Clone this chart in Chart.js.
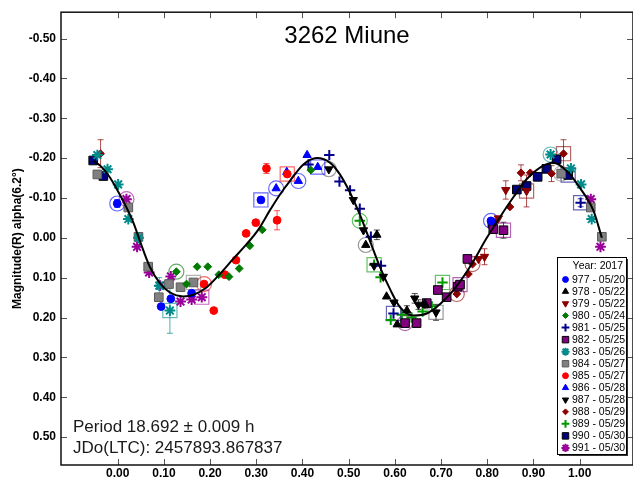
<!DOCTYPE html>
<html>
<head>
<meta charset="utf-8">
<title>3262 Miune</title>
<script src="https://cdn.jsdelivr.net/npm/chart.js@4.4.1/dist/chart.umd.min.js"></script>
<style>
  html, body { margin: 0; padding: 0; background: #fff; overflow: hidden; }
  #wrap { position: relative; width: 633px; height: 482px; }
  #lc { display: block; }
</style>
</head>
<body>
<div id="wrap"><canvas id="lc"></canvas></div>
<script>
// each point: [phase, magnitude, error bar (or null), marker ring: 'o' circle / 's' box]
const s977 = [[-0.001, -0.086, 0.01, 'o'], [0.094, 0.1725], [0.115, 0.153], [0.16, 0.139], [0.31, -0.095, null, 's'], [0.808, -0.0425, null, 'o']];
const s978 = [[0.537, 0.018, null, 'o'], [0.561, -0.0075, 0.012], [0.582, 0.1475], [0.605, 0.2175], [0.626, 0.1825, 0.012], [0.665, 0.166, 0.012]];
const s979 = [[0.781, 0.053], [0.794, 0.0475, 0.02], [0.824, -0.049], [0.84, -0.12, 0.023], [0.885, -0.1175, 0.04, 's']];
const s980 = [[0.127, 0.085, null, 'o'], [0.149, 0.116], [0.172, 0.0725], [0.195, 0.0725], [0.219, 0.0925], [0.241, 0.0975], [0.263, 0.077], [0.286, 0.02], [0.313, -0.02], [0.418, -0.17]];
const s981 = [[0.413, -0.184], [0.458, -0.2075], [0.48, -0.141], [0.503, -0.119], [0.524, -0.073], [0.548, -0.0025], [0.57, 0.07], [0.597, 0.19, null, 's'], [1.002, -0.088, 0.01, 's']];
const s982 = [[0.622, 0.214, null, 'o'], [0.647, 0.214], [0.669, 0.164], [0.693, 0.131], [0.712, 0.149], [0.736, 0.1225], [0.741, 0.1175, null, 's'], [0.757, 0.053], [0.813, -0.0217], [0.835, -0.019, 0.02, 's']];
const s983 = [[-0.044, -0.2075], [-0.022, -0.172], [0.001, -0.134], [0.023, -0.047], [0.045, 0.0], [0.09, 0.12, 0.02], [0.113, 0.1825, 0.057, 's'], [0.937, -0.209, null, 'o'], [0.981, -0.174], [1.003, -0.134], [1.026, -0.047]];
const s984 = [[-0.044, -0.159], [0.023, -0.076], [0.045, -0.0025], [0.066, 0.0725], [0.089, 0.149], [0.111, 0.116], [0.136, 0.124], [0.164, 0.112, null, 's'], [0.96, -0.161, null, 'o'], [1.024, -0.076], [1.048, -0.0025]];
const s985 = [[0.187, 0.116, null, 'o'], [0.208, 0.1825], [0.232, 0.0925], [0.256, 0.056], [0.278, -0.011], [0.299, -0.038], [0.322, -0.174, 0.0125], [0.345, -0.044, 0.024], [0.367, -0.16, null, 's']];
const s986 = [[0.343, -0.124, null, 'o'], [0.366, -0.165], [0.391, -0.1425, null, 'o'], [0.41, -0.2075], [0.433, -0.1775, null, 's']];
const s987 = [[0.457, -0.172, null, 'o'], [0.51, -0.095], [0.532, -0.019], [0.555, 0.07], [0.575, 0.0975], [0.598, 0.162], [0.643, 0.152, 0.012], [0.651, 0.1675, 0.012], [0.689, 0.187, 0.02, 's']];
const s988 = [[-0.037, -0.211, 0.035], [0.734, 0.141, null, 'o'], [0.759, 0.091], [0.768, 0.066, null, 'o'], [0.849, -0.0775], [0.873, -0.163, 0.02], [0.893, -0.163], [0.939, -0.161, 0.02], [0.965, -0.211, 0.035, 's']];
const s989 = [[0.524, -0.0425, null, 'o'], [0.555, 0.0675, null, 's'], [0.569, 0.099], [0.591, 0.206], [0.615, 0.193], [0.636, 0.2], [0.66, 0.185], [0.68, 0.172], [0.703, 0.112, null, 's']];
const s990 = [[-0.053, -0.194], [-0.031, -0.155], [0.811, -0.036], [0.864, -0.121], [0.885, -0.13], [0.909, -0.153], [0.928, -0.173], [0.95, -0.197], [0.975, -0.1575, null, 's']];
const s991 = [[0.019, -0.097, null, 'o'], [0.042, 0.0225], [0.068, 0.087], [0.092, 0.12], [0.115, 0.097], [0.136, 0.16], [0.16, 0.155], [0.182, 0.149, null, 's'], [1.024, -0.097], [1.045, 0.0225]];

// Fourier fit curve
const fitPhase = [-0.053, -0.035, -0.016, 0.0, 0.019, 0.035, 0.048, 0.07, 0.092, 0.113, 0.142, 0.164, 0.193, 0.221, 0.25, 0.279, 0.304, 0.33, 0.352, 0.373, 0.402, 0.431, 0.46, 0.481, 0.503, 0.524, 0.546, 0.568, 0.59, 0.611, 0.64, 0.669, 0.698, 0.726, 0.762, 0.799, 0.827, 0.856, 0.885, 0.914, 0.943, 0.972, 1.0, 1.03, 1.048];
const fitMag = [-0.193, -0.178, -0.15, -0.118, -0.076, -0.035, 0.0075, 0.074, 0.115, 0.137, 0.147, 0.143, 0.124, 0.091, 0.053, 0.016, -0.02, -0.07, -0.11, -0.143, -0.184, -0.2, -0.188, -0.159, -0.113, -0.059, 0.0075, 0.074, 0.13, 0.174, 0.195, 0.19, 0.166, 0.1325, 0.074, 0.0, -0.051, -0.101, -0.147, -0.176, -0.188, -0.1675, -0.126, -0.0675, 0.0];

const xTicks = [0, 0.1, 0.2, 0.3, 0.4, 0.5, 0.6, 0.7, 0.8, 0.9, 1.0];
const yTicks = [-0.5, -0.4, -0.3, -0.2, -0.1, 0, 0.1, 0.2, 0.3, 0.4, 0.5];

const titleText = '3262 Miune';
const periodText = 'Period 18.692 \u00b1 0.009 h';
const epochText = 'JDo(LTC): 2457893.867837';
const legendHeader = 'Year: 2017';

const FONT = "'Liberation Sans', Arial, sans-serif";

/* ================================================================
   SESSIONS (label, points, marker style)
   ================================================================ */
const sessions = [
    { label: '977 - 05/20', pts: s977, style: 'circle',   color: '#0000ff', border: '#0000ff', r: 3.9 },
    { label: '978 - 05/22', pts: s978, style: 'triangle', color: '#000000', border: '#000000', r: 4.8 },
    { label: '979 - 05/22', pts: s979, style: 'triangle', color: '#8b0000', border: '#8b0000', r: 4.8, rot: 180 },
    { label: '980 - 05/24', pts: s980, style: 'rectRot',  color: '#007a00', border: '#007a00', r: 3.9 },
    { label: '981 - 05/25', pts: s981, style: 'cross',    color: '#00008b', border: '#00008b', r: 5.2, bw: 2 },
    { label: '982 - 05/25', pts: s982, style: 'rect',     color: '#800080', border: '#000000', r: 6.1 },
    { label: '983 - 05/26', pts: s983, style: 'star',     color: '#008b8b', border: '#008b8b', r: 5.4, bw: 2 },
    { label: '984 - 05/27', pts: s984, style: 'rect',     color: '#808080', border: '#5a5a5a', r: 6.1 },
    { label: '985 - 05/27', pts: s985, style: 'circle',   color: '#ff0000', border: '#ff0000', r: 3.9 },
    { label: '986 - 05/28', pts: s986, style: 'triangle', color: '#0000ff', border: '#0000ff', r: 4.8 },
    { label: '987 - 05/28', pts: s987, style: 'triangle', color: '#000000', border: '#000000', r: 4.8, rot: 180 },
    { label: '988 - 05/29', pts: s988, style: 'rectRot',  color: '#8b0000', border: '#8b0000', r: 3.9 },
    { label: '989 - 05/29', pts: s989, style: 'cross',    color: '#009900', border: '#009900', r: 5.2, bw: 2 },
    { label: '990 - 05/30', pts: s990, style: 'rect',     color: '#000080', border: '#000000', r: 6.1 },
    { label: '991 - 05/30', pts: s991, style: 'star',     color: '#990099', border: '#990099', r: 5.4, bw: 2 }
];

function fade(hex, a) {
    const n = parseInt(hex.slice(1), 16);
    return `rgba(${(n >> 16) & 255},${(n >> 8) & 255},${n & 255},${a})`;
}

const datasets = [];
datasets.push({
    type: 'line', label: 'fit', order: 0,
    data: fitPhase.map((x, i) => ({ x, y: fitMag[i] })),
    borderColor: '#000', borderWidth: 2, pointRadius: 0,
    cubicInterpolationMode: 'monotone', fill: false
});
sessions.forEach(s => {
    datasets.push({
        type: 'scatter', label: s.label, order: 1, isSession: true, ebColor: fade(s.border, 0.7),
        data: s.pts.map(p => ({ x: p[0], y: p[1], e: p[2] || 0 })),
        pointStyle: s.style, rotation: s.rot || 0, radius: s.r,
        backgroundColor: s.color, borderColor: s.border, borderWidth: s.bw || 1
    });
    const circ = s.pts.filter(p => p[3] === 'o');
    const box = s.pts.filter(p => p[3] === 's');
    const ring = fade(s.color === '#000000' ? '#555555' : s.color, 0.6);
    if (circ.length) datasets.push({
        type: 'scatter', label: '', order: 2,
        data: circ.map(p => ({ x: p[0], y: p[1] })),
        pointStyle: 'circle', radius: 7.5, backgroundColor: 'rgba(0,0,0,0)',
        borderColor: ring, borderWidth: 1.2
    });
    if (box.length) datasets.push({
        type: 'scatter', label: '', order: 2,
        data: box.map(p => ({ x: p[0], y: p[1] })),
        pointStyle: 'rect', radius: 10, backgroundColor: 'rgba(0,0,0,0)',
        borderColor: ring, borderWidth: 1.2
    });
});

/* ================================================================
   PLUGINS
   ================================================================ */
const errorBars = {
    id: 'errorBars',
    beforeDatasetsDraw(chart) {
        const { ctx, scales: { x, y } } = chart;
        ctx.save();
        chart.data.datasets.forEach(ds => {
            if (!ds.isSession) return;
            ctx.strokeStyle = ds.ebColor;
            ctx.lineWidth = 1;
            ds.data.forEach(d => {
                if (!d.e) return;
                const px = x.getPixelForValue(d.x);
                const y1 = y.getPixelForValue(d.y - d.e);
                const y2 = y.getPixelForValue(d.y + d.e);
                ctx.beginPath();
                ctx.moveTo(px, y1); ctx.lineTo(px, y2);
                ctx.moveTo(px - 3, y1); ctx.lineTo(px + 3, y1);
                ctx.moveTo(px - 3, y2); ctx.lineTo(px + 3, y2);
                ctx.stroke();
            });
        });
        ctx.restore();
    }
};

const frame = {
    id: 'frame',
    afterDraw(chart) {
        const { ctx, chartArea: a, scales: { x, y } } = chart;
        ctx.save();
        // inward tick marks on all four sides
        ctx.strokeStyle = '#555';
        ctx.lineWidth = 1;
        ctx.beginPath();
        xTicks.forEach(v => {
            const px = Math.round(x.getPixelForValue(v)) + 0.5;
            ctx.moveTo(px, a.bottom); ctx.lineTo(px, a.bottom - 6);
            ctx.moveTo(px, a.top); ctx.lineTo(px, a.top + 6);
        });
        yTicks.forEach(v => {
            const py = Math.round(y.getPixelForValue(v)) + 0.5;
            ctx.moveTo(a.left, py); ctx.lineTo(a.left + 6, py);
            ctx.moveTo(a.right, py); ctx.lineTo(a.right - 6, py);
        });
        ctx.stroke();
        // box
        ctx.strokeStyle = '#111';
        ctx.lineWidth = 1.5;
        ctx.strokeRect(a.left, a.top, a.right - a.left, a.bottom - a.top);

        // title and period notes
        ctx.fillStyle = '#000';
        ctx.font = `24px ${FONT}`;
        ctx.textAlign = 'center';
        ctx.textBaseline = 'alphabetic';
        ctx.fillText(titleText, (a.left + a.right) / 2, 43);
        ctx.fillStyle = '#1a1a1a';
        ctx.font = `17px ${FONT}`;
        ctx.textAlign = 'left';
        ctx.fillText(periodText, 73, 432);
        ctx.fillText(epochText, 73, 453);

        // session legend
        const lx = 557, ly = 257, lw = 69, lh = 197;
        ctx.fillStyle = '#333';
        ctx.fillRect(lx + 2, ly + 2, lw, lh);
        ctx.fillStyle = '#fff';
        ctx.fillRect(lx, ly, lw, lh);
        ctx.strokeStyle = '#000';
        ctx.lineWidth = 1;
        ctx.strokeRect(lx + 0.5, ly + 0.5, lw, lh);
        ctx.fillStyle = '#000';
        ctx.font = `10.5px ${FONT}`;
        ctx.textAlign = 'right';
        ctx.textBaseline = 'middle';
        ctx.fillText(legendHeader, lx + lw - 3, ly + 9);
        ctx.textAlign = 'left';
        sessions.forEach((s, i) => {
            const cy = ly + 22.5 + i * 12.03;
            ctx.fillStyle = s.color;
            ctx.strokeStyle = s.border;
            ctx.lineWidth = s.bw || 1;
            Chart.helpers.drawPoint(ctx, {
                pointStyle: s.style, rotation: s.rot || 0,
                radius: s.r * 0.75, borderWidth: s.bw || 1
            }, lx + 8.5, cy);
            ctx.fillStyle = '#000';
            ctx.fillText(s.label, lx + 15, cy + 0.5);
        });
        ctx.restore();
    }
};

/* ================================================================
   CHART
   ================================================================ */
new Chart(document.getElementById('lc'), {
    type: 'scatter',
    data: { datasets },
    options: {
        responsive: true,
        maintainAspectRatio: false,
        animation: false,
        layout: { autoPadding: false, padding: { left: 0, right: 0, top: 10, bottom: 0 } },
        plugins: { legend: { display: false }, tooltip: { enabled: false }, title: { display: false } },
        scales: {
            x: {
                type: 'linear', min: -0.1227, max: 1.1154,
                afterFit: s => { s.height = 17; },
                afterBuildTicks: s => { s.ticks = xTicks.map(v => ({ value: v })); },
                grid: { display: false, drawTicks: false },
                border: { display: false },
                ticks: {
                    padding: 1, color: '#000', maxRotation: 0, autoSkip: false,
                    font: { family: FONT, size: 12, weight: 'bold' },
                    callback: v => v.toFixed(2)
                }
            },
            y: {
                type: 'linear', reverse: true, min: -0.566, max: 0.57,
                afterFit: s => { s.width = 61; },
                afterBuildTicks: s => { s.ticks = yTicks.map(v => ({ value: v })); },
                grid: { display: false, drawTicks: false },
                border: { display: false },
                ticks: {
                    padding: 5, color: '#000', autoSkip: false,
                    font: { family: FONT, size: 12, weight: 'bold' },
                    callback: v => v.toFixed(2)
                },
                title: {
                    display: true, text: 'Magnitude(R) alpha(6.2\u00b0)', color: '#000',
                    font: { family: FONT, size: 12, weight: 'bold' },
                    padding: { top: 10, bottom: 0 }
                }
            }
        }
    },
    plugins: [errorBars, frame]
});
</script>
</body>
</html>
